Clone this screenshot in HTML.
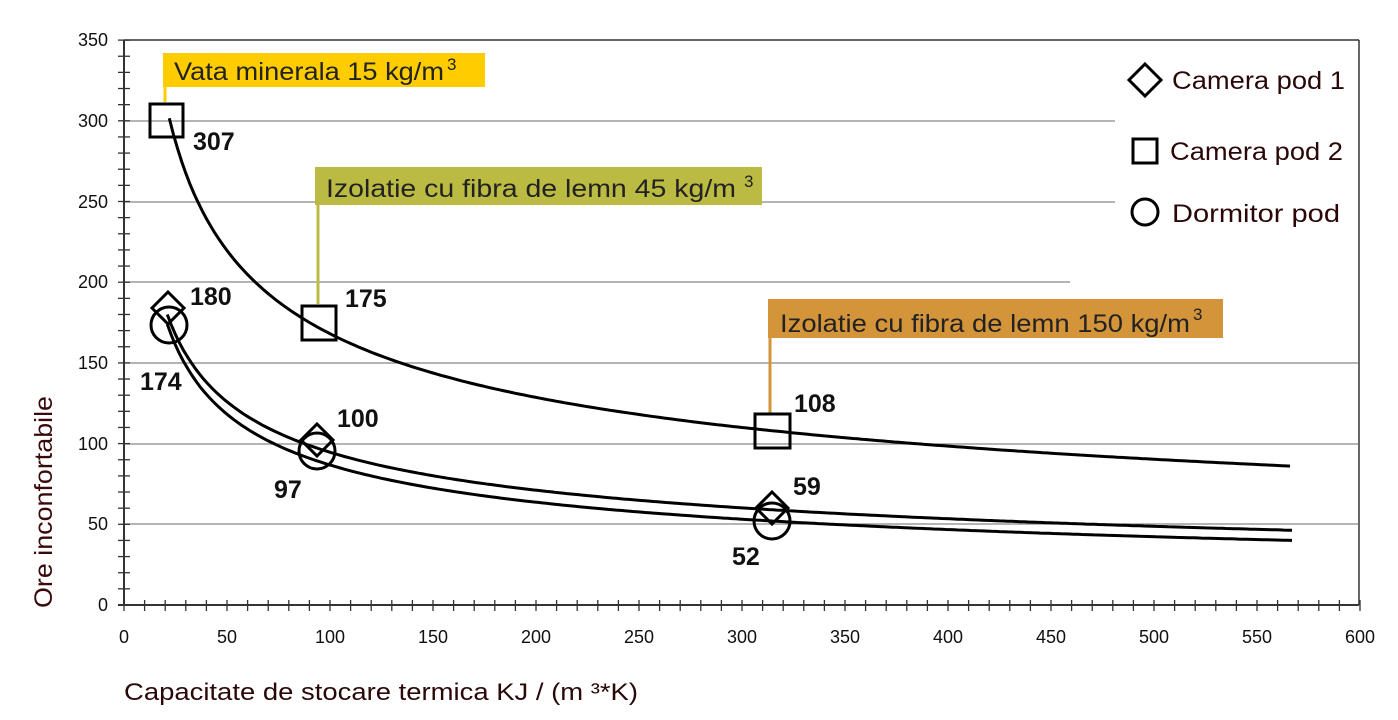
<!DOCTYPE html>
<html><head><meta charset="utf-8"><style>
body{margin:0;background:#fff;}
svg{display:block;font-family:"Liberation Sans",sans-serif;}
.t{font-size:18px;fill:#111;}
.b{font-size:25px;font-weight:bold;fill:#111;}
.lg{font-size:25px;fill:#2a0808;}
.cl{font-size:25px;fill:#222;}
</style></head><body>
<svg id="s" width="1398" height="720" viewBox="0 0 1398 720" xmlns="http://www.w3.org/2000/svg">
<g stroke="#888" stroke-width="1.3">
<line x1="124" y1="121" x2="1115" y2="121"/>
<line x1="124" y1="202" x2="1115" y2="202"/>
<line x1="124" y1="282" x2="1070" y2="282"/>
<line x1="124" y1="363" x2="1358" y2="363"/>
<line x1="124" y1="444" x2="1358" y2="444"/>
<line x1="124" y1="524" x2="1358" y2="524"/>
</g>
<g stroke="#333" stroke-width="1.5" fill="none">
<line x1="124" y1="40" x2="1359" y2="40"/>
<line x1="1359" y1="40" x2="1359" y2="605"/>
<line x1="124" y1="40" x2="124" y2="606" stroke-width="2"/>
<line x1="118" y1="605" x2="1359" y2="605" stroke-width="2"/>
</g>
<g id="ticks" stroke="#333" stroke-width="1.3"></g>
<g class="t" text-anchor="end">
<text x="108" y="46">350</text><text x="108" y="127">300</text><text x="108" y="208">250</text>
<text x="108" y="288">200</text><text x="108" y="369">150</text><text x="108" y="450">100</text>
<text x="108" y="530">50</text><text x="108" y="611">0</text>
</g>
<g class="t" text-anchor="middle" id="xl"></g>
<text x="52" y="502" transform="rotate(-90 52 502)" text-anchor="middle" textLength="212" lengthAdjust="spacingAndGlyphs" style="font-size:25px;fill:#3a0a0a">Ore inconfortabile</text>
<text x="124" y="700" textLength="514" lengthAdjust="spacingAndGlyphs" style="font-size:24px;fill:#2a0808">Capacitate de stocare termica KJ / (m ³*K)</text>
<g id="curves" fill="none" stroke="#000" stroke-width="3"></g>
<rect x="163" y="53" width="322" height="34" fill="#FFCC00"/>
<line x1="165" y1="87" x2="165" y2="102" stroke="#FFCC00" stroke-width="3"/>
<text x="174" y="80" class="cl"><tspan textLength="270" lengthAdjust="spacingAndGlyphs">Vata minerala 15 kg/m</tspan><tspan dx="3" dy="-10" font-size="17">3</tspan></text>
<rect x="315" y="167" width="447" height="38" fill="#BBBB44"/>
<line x1="318" y1="205" x2="318" y2="304" stroke="#BBBB44" stroke-width="3"/>
<text x="326" y="197" class="cl"><tspan textLength="410" lengthAdjust="spacingAndGlyphs">Izolatie cu fibra de lemn 45 kg/m</tspan><tspan dx="8" dy="-10" font-size="17">3</tspan></text>
<rect x="768" y="299" width="455" height="39" fill="#D4943A"/>
<line x1="770" y1="338" x2="770" y2="414" stroke="#D4943A" stroke-width="3"/>
<text x="780" y="332" class="cl"><tspan textLength="410" lengthAdjust="spacingAndGlyphs">Izolatie cu fibra de lemn 150 kg/m</tspan><tspan dx="3" dy="-12" font-size="17">3</tspan></text>
<g fill="none" stroke="#000" stroke-width="3">
<rect x="150" y="104" width="33" height="33"/>
<rect x="302" y="306" width="34" height="34"/>
<rect x="755" y="414" width="35" height="34"/>
<path d="M168 292 L184 308 L168 324 L152 308 Z"/>
<path d="M317 424 L333 440 L317 456 L301 440 Z"/>
<path d="M772 492 L788 508 L772 524 L756 508 Z"/>
<circle cx="169" cy="325" r="18"/>
<circle cx="317" cy="451" r="18"/>
<circle cx="772" cy="521" r="18"/>
</g>
<g class="b">
<text x="193" y="150">307</text><text x="190" y="305">180</text><text x="140" y="390">174</text>
<text x="345" y="307">175</text><text x="337" y="427">100</text><text x="274" y="498">97</text>
<text x="794" y="412">108</text><text x="793" y="495">59</text><text x="732" y="565">52</text>
</g>
<g fill="none" stroke="#000" stroke-width="3">
<path d="M1145 64 L1161 80 L1145 96 L1129 80 Z"/>
<rect x="1133" y="139" width="24" height="24"/>
<circle cx="1145" cy="212" r="13"/>
</g>
<text x="1172" y="89" class="lg" textLength="173" lengthAdjust="spacingAndGlyphs">Camera pod 1</text>
<text x="1170" y="160" class="lg" textLength="173" lengthAdjust="spacingAndGlyphs">Camera pod 2</text>
<text x="1172" y="222" class="lg" textLength="168" lengthAdjust="spacingAndGlyphs">Dormitor pod</text>
</svg>
<script>
var ns="http://www.w3.org/2000/svg";
function X(v){return 124+v*2.06;}function Y(v){return 605-v*1.614;}
var tk=document.getElementById('ticks'),xl=document.getElementById('xl');
function ln(a,b,c,d,p){var l=document.createElementNS(ns,'line');l.setAttribute('x1',a);l.setAttribute('y1',b);l.setAttribute('x2',c);l.setAttribute('y2',d);p.appendChild(l);}
for(var v=0;v<=350;v+=10){ln(118,Y(v),130,Y(v),tk);}
for(var v=0;v<=600;v+=10){ln(X(v),600,X(v),611,tk);}
for(var v=0;v<=600;v+=50){var t=document.createElementNS(ns,'text');t.setAttribute('x',X(v));t.setAttribute('y',643);t.textContent=v;xl.appendChild(t);}
var cv=document.getElementById('curves');
[[307,0.386,22],[180,0.412,21],[174,0.446,21]].forEach(function(c){
 var d="";for(var x=c[2];x<=567;x+=2){var y=c[0]*Math.pow(x/21,-c[1]);d+=(d?"L":"M")+X(x).toFixed(1)+" "+Y(y).toFixed(1);}
 var p=document.createElementNS(ns,'path');p.setAttribute('d',d);cv.appendChild(p);});
</script>
</body></html>
